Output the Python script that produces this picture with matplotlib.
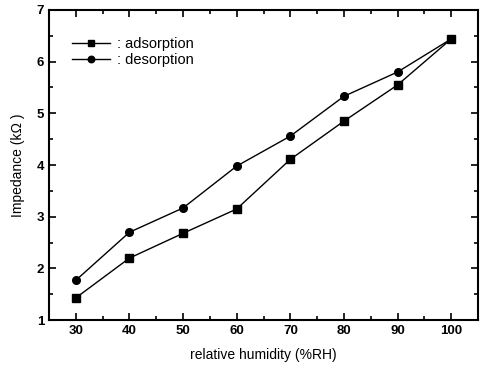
import numpy as np
import matplotlib
matplotlib.use('Agg')
import matplotlib.pyplot as plt
from matplotlib.ticker import MultipleLocator

plt.rcParams['font.family'] = ['Liberation Sans', 'DejaVu Sans']

# Daten
humidity = [30, 40, 50, 60, 70, 80, 90, 100]
adsorption = [1.43, 2.20, 2.68, 3.15, 4.11, 4.85, 5.55, 6.44]
desorption = [1.77, 2.70, 3.17, 3.98, 4.56, 5.33, 5.80, 6.44]

fig = plt.figure(figsize=(4.8, 3.68), dpi=100)
ax = fig.add_axes([0.102, 0.130, 0.894, 0.843])

ax.plot(humidity, adsorption, '-s', color='black', lw=1.0, ms=5.5, label=': adsorption')
ax.plot(humidity, desorption, '-o', color='black', lw=1.0, ms=5.5, label=': desorption')

ax.set_xlim(25, 105)
ax.set_ylim(1, 7)
ax.xaxis.set_major_locator(MultipleLocator(10))
ax.xaxis.set_minor_locator(MultipleLocator(5))
ax.yaxis.set_major_locator(MultipleLocator(1))
ax.yaxis.set_minor_locator(MultipleLocator(0.5))
ax.tick_params(which='both', direction='in', top=True, right=True, width=1.2)
ax.tick_params(which='major', length=5, labelsize=9.5)
ax.tick_params(which='minor', length=3)
for lab in ax.get_xticklabels() + ax.get_yticklabels():
    lab.set_fontweight('bold')
for s in ax.spines.values():
    s.set_linewidth(1.5)

ax.set_xlabel('relative humidity (%RH)', fontsize=10, labelpad=8)
ax.set_ylabel('Impedance (k\u03a9 )', fontsize=10, labelpad=8)

ax.legend(loc='upper left', bbox_to_anchor=(0.03, 0.945), frameon=False,
          handlelength=2.6, handletextpad=0.5, labelspacing=0.15, fontsize=10.5,
          borderaxespad=0.3, markerscale=0.85)

plt.savefig('out.png', dpi=100)
